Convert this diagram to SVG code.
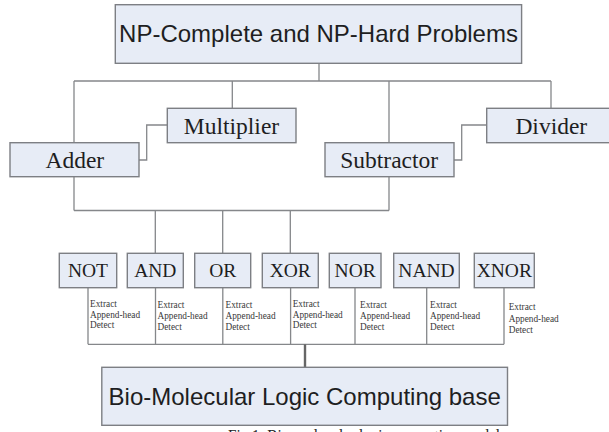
<svg xmlns="http://www.w3.org/2000/svg" width="609" height="432" viewBox="0 0 609 432">
<style>
.box{fill:#e7ecf6;stroke:#7d7f84;stroke-width:1.4}
.ln{fill:none;stroke:#85878a;stroke-width:1.3}
.big{font-family:"Liberation Sans",Arial,sans-serif;font-size:24px;fill:#1e1e22;text-anchor:middle}
.mid{font-family:"Liberation Serif","Times New Roman",serif;font-size:23.5px;fill:#1e1e22;text-anchor:middle}
.gate{font-family:"Liberation Serif","Times New Roman",serif;font-size:19.5px;fill:#1e1e22;text-anchor:middle}
.op{font-family:"Liberation Serif","Times New Roman",serif;font-size:9.3px;fill:#3a3a3a}
.cap{font-family:"Liberation Serif","Times New Roman",serif;font-size:16px;fill:#222}
</style>
<rect width="609" height="432" fill="#ffffff"/>
<g id="connectors">
<path class="ln" d="M319 63.3V81M74 81H551M74 81V142.7M232.3 81V108.3M389 81V142.7M551 81V108.3"/>
<path class="ln" d="M139 160H146.7V125H167.3M454 160H461.7V125H486.7"/>
<path class="ln" d="M74 176.7V210.5M389 176.7V210.5M74 210.5H389M155.3 210.5V253.3M222.7 210.5V253.3M290.3 210.5V253.3"/>
<path class="ln" d="M88 287.7V344.3M155.5 287.7V344.3M222.8 287.7V344.3M290.6 287.7V344.3M355 287.7V344.3M426.7 287.7V344.3M504 287.7V344.3M88 344.3H504"/>
<path class="ln" style="stroke-width:2.4;stroke:#666" d="M305 344.3V367.3"/>
</g>
<g id="np">
<rect class="box" x="115.3" y="4.7" width="406.3" height="58.6"/>
<text class="big" x="318.5" y="42">NP-Complete and NP-Hard Problems</text>
</g>
<g id="multiplier">
<rect class="box" x="167.3" y="108.3" width="128.7" height="34.4"/>
<text class="mid" x="231.5" y="133.5">Multiplier</text>
</g>
<g id="divider">
<rect class="box" x="486.7" y="108.3" width="129" height="34.4"/>
<text class="mid" x="551.3" y="133.5">Divider</text>
</g>
<g id="adder">
<rect class="box" x="10" y="142.7" width="129" height="34"/>
<text class="mid" x="74.8" y="168.3">Adder</text>
</g>
<g id="subtractor">
<rect class="box" x="325" y="142.7" width="129" height="34"/>
<text class="mid" x="389.2" y="168.3">Subtractor</text>
</g>
<g id="not">
<rect class="box" x="59.3" y="253.3" width="57.4" height="34.4"/>
<text class="gate" x="88" y="277">NOT</text>
<text class="op" x="90" y="306.7">Extract</text>
<text class="op" x="90" y="317.5">Append-head</text>
<text class="op" x="90" y="328.3">Detect</text>
</g>
<g id="and">
<rect class="box" x="127.3" y="253.3" width="56" height="34.4"/>
<text class="gate" x="155.3" y="277">AND</text>
<text class="op" x="157.5" y="307.7">Extract</text>
<text class="op" x="157.5" y="318.8">Append-head</text>
<text class="op" x="157.5" y="330">Detect</text>
</g>
<g id="or">
<rect class="box" x="194.7" y="253.3" width="56" height="34.4"/>
<text class="gate" x="222.7" y="277">OR</text>
<text class="op" x="225.5" y="307.7">Extract</text>
<text class="op" x="225.5" y="318.8">Append-head</text>
<text class="op" x="225.5" y="330">Detect</text>
</g>
<g id="xor">
<rect class="box" x="262.3" y="253.3" width="56" height="34.4"/>
<text class="gate" x="290.3" y="277">XOR</text>
<text class="op" x="292.7" y="306.7">Extract</text>
<text class="op" x="292.7" y="317.5">Append-head</text>
<text class="op" x="292.7" y="328.3">Detect</text>
</g>
<g id="nor">
<rect class="box" x="329.3" y="253.3" width="51.7" height="34.4"/>
<text class="gate" x="355.2" y="277">NOR</text>
<text class="op" x="360" y="307.7">Extract</text>
<text class="op" x="360" y="318.8">Append-head</text>
<text class="op" x="360" y="330">Detect</text>
</g>
<g id="nand">
<rect class="box" x="393.7" y="253.3" width="65.6" height="34.4"/>
<text class="gate" x="426.5" y="277">NAND</text>
<text class="op" x="430" y="307.7">Extract</text>
<text class="op" x="430" y="318.8">Append-head</text>
<text class="op" x="430" y="330">Detect</text>
</g>
<g id="xnor">
<rect class="box" x="474.3" y="253.3" width="60" height="34.4"/>
<text class="gate" x="504.3" y="277">XNOR</text>
<text class="op" x="508.7" y="310">Extract</text>
<text class="op" x="508.7" y="321.5">Append-head</text>
<text class="op" x="508.7" y="332.7">Detect</text>
</g>
<g id="base">
<rect class="box" x="101.8" y="367.3" width="405.7" height="58"/>
<text class="big" x="304.7" y="404.5">Bio-Molecular Logic Computing base</text>
</g>
<text class="cap" x="228" y="441" textLength="272" lengthAdjust="spacingAndGlyphs">Fig.1. Bio-molecular logic computing model</text>
</svg>
